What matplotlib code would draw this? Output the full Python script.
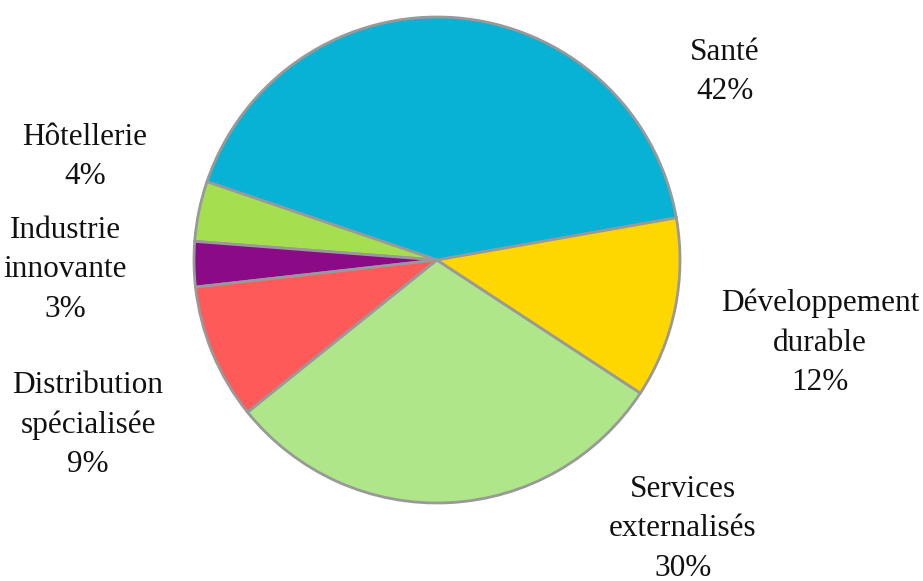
import numpy as np
import matplotlib.pyplot as plt

sectors = ['Santé', 'Hôtellerie', 'Industrie\ninnovante', 'Distribution\nspécialisée',
           'Services\nexternalisés', 'Développement\ndurable']
shares = [42, 4, 3, 9, 30, 12]
colors = ['#07B2D5', '#A5DF50', '#8B0A85', '#FF5A5A', '#B0E68A', '#FFD700']

# label centres in pixels of the 923x581 picture
label_px = [(725, 72), (85, 157), (65, 270), (88, 425), (683, 529), (820, 343)]

W, H = 923, 581
cx, cy, r = 437, 260, 243

fig = plt.figure(figsize=(W / 100, H / 100), dpi=100)
ax = fig.add_axes([(cx - r) / W, (H - cy - r) / H, 2 * r / W, 2 * r / H])
ax.pie(shares, colors=colors, startangle=10, counterclock=True, radius=1,
       wedgeprops=dict(edgecolor='#999999', linewidth=2))
ax.set_xlim(-1, 1)
ax.set_ylim(-1, 1)
ax.set_aspect('equal')
ax.axis('off')

for name, v, (px, py) in zip(sectors, shares, label_px):
    x = (px - cx) / r
    y = (cy - py) / r
    ax.text(x, y, '{}\n{}%'.format(name, v), ha='center', va='center',
            fontsize=22.5, family='Liberation Serif', linespacing=1.47,
            color='#111111', clip_on=False)

fig.savefig('out.png', dpi=100)
